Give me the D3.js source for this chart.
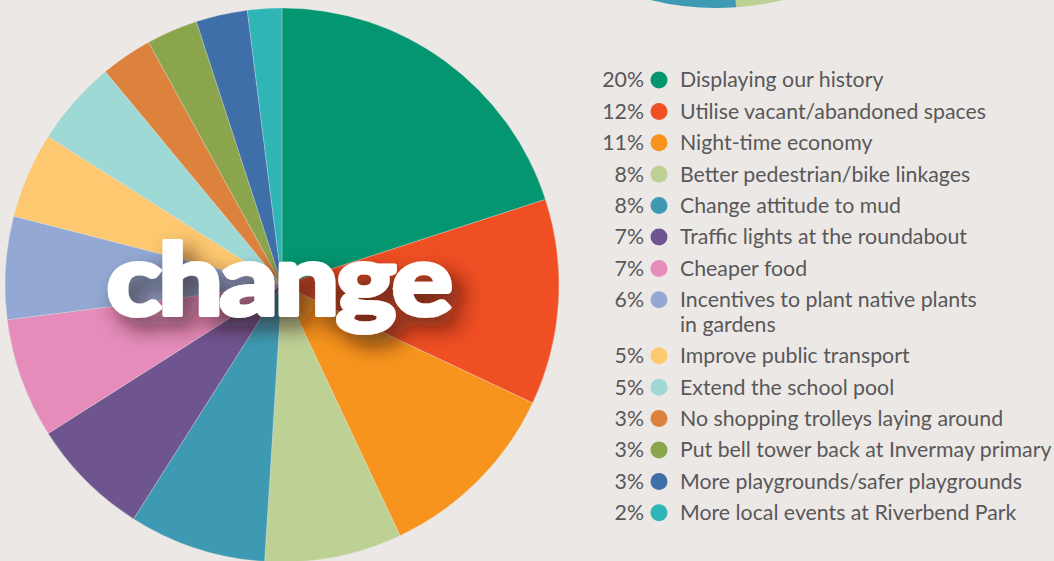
<!DOCTYPE html>
<html><head><meta charset="UTF-8">
<style>
body { margin: 0; background: #ece8e5; }
svg { display: block; }
.legend text { font-family: Lato, "Noto Sans", sans-serif; font-size: 21.3px; fill: #58585a; }
</style>
</head>
<body>
<svg width="1054" height="561"></svg>
<script src="https://cdn.jsdelivr.net/npm/d3@7"></script>
<script>

var labels = [
  "Displaying our history",
  "Utilise vacant/abandoned spaces",
  "Night-time economy",
  "Better pedestrian/bike linkages",
  "Change attitude to mud",
  "Traffic lights at the roundabout",
  "Cheaper food",
  "Incentives to plant native plants|in gardens",
  "Improve public transport",
  "Extend the school pool",
  "No shopping trolleys laying around",
  "Put bell tower back at Invermay primary",
  "More playgrounds/safer playgrounds",
  "More local events at Riverbend Park"
];
var values = [20, 12, 11, 8, 8, 7, 7, 6, 5, 5, 3, 3, 3, 2];
var colors = ["#039670", "#f04e23", "#f7941d", "#bdd195", "#3d9ab2", "#6f5590", "#e58cba",
              "#93a9d3", "#fdc86f", "#9fd9d6", "#dd823d", "#8aa54b", "#3e6fa8", "#2fb5b5"];

var data = values.map(function(v, i) { return {label: labels[i], value: v, color: colors[i]}; });

var svg = d3.select("svg");

var defs = svg.append("defs");
var f = defs.append("filter").attr("id", "shadow")
    .attr("x", "-20%").attr("y", "-40%").attr("width", "150%").attr("height", "200%");
f.append("feDropShadow")
    .attr("dx", 9).attr("dy", 11).attr("stdDeviation", 10)
    .attr("flood-color", "#2a1408").attr("flood-opacity", 0.7);

var pie = d3.pie().sort(null).value(function(d) { return d.value; });
var r = 277;
var arc = d3.arc().innerRadius(0).outerRadius(r);

// partial pie peeking in at the top
var pie2 = d3.pie().sort(null).value(function(d) { return d.value; })
    .startAngle(-Math.PI * 0.042).endAngle(Math.PI * 2 - Math.PI * 0.042);
svg.append("g")
    .attr("transform", "translate(717," + (8 - r) + ")")
  .selectAll("path")
  .data(pie2(data))
  .enter().append("path")
    .attr("d", arc)
    .attr("fill", function(d) { return d.data.color; });

var g = svg.append("g").attr("transform", "translate(282,285)");

g.selectAll("path")
  .data(pie(data))
  .enter().append("path")
    .attr("d", arc)
    .attr("fill", function(d) { return d.data.color; })
    .attr("stroke", "#ece8e5")
    .attr("stroke-opacity", 0.5)
    .attr("stroke-width", 0.6);

g.append("text")
    .attr("transform", "translate(-4,30) scale(1.14,1)")
    .attr("text-anchor", "middle")
    .attr("filter", "url(#shadow)")
    .style("font-family", "Lato, Roboto, sans-serif")
    .style("font-weight", 900)
    .style("font-size", "100px")
    .style("letter-spacing", "-3px")
    .style("fill", "#fff")
    .style("stroke", "#fff")
    .style("stroke-width", "4px")
    .style("stroke-linejoin", "round")
    .text("change");

// legend
var legend = svg.append("g").attr("class", "legend");
var y = 80;
data.forEach(function(d) {
  var row = legend.append("g").attr("transform", "translate(0," + y + ")");
  row.append("text")
      .attr("x", 644).attr("dy", "0.35em")
      .attr("text-anchor", "end")
      .text(d.value + "%");
  row.append("circle")
      .attr("cx", 659).attr("cy", 0).attr("r", 8.5)
      .attr("fill", d.color);
  var lines = d.label.split("|");
  lines.forEach(function(t, k) {
    row.append("text")
        .attr("x", 680).attr("y", k * 24.6).attr("dy", "0.35em")
        .text(t);
  });
  y += 31.4 + (lines.length - 1) * 24.6;
});

</script>
</body></html>
